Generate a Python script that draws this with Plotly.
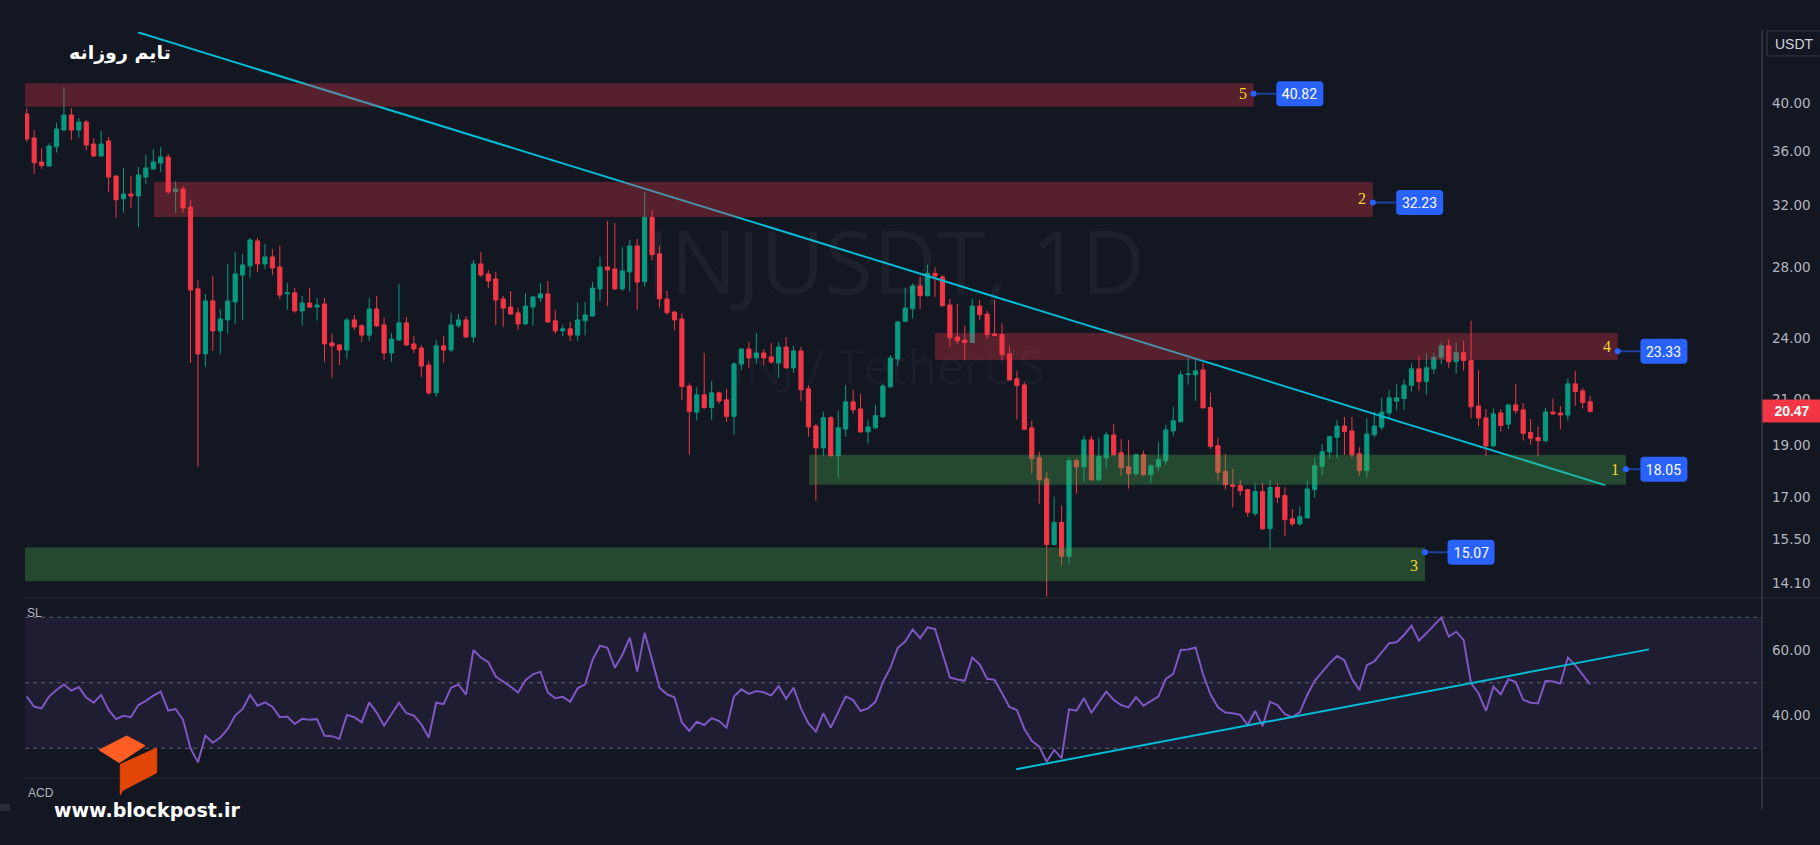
import math
import plotly.graph_objects as go

W, H = 1820, 845
BG = "#131722"
UP, DOWN = "#089981", "#f23645"

# ---------------- data ----------------
opens = [39.06, 37.07, 35.19, 34.88, 36.38, 37.72, 38.97, 37.72, 38.38, 36.59,
         35.65, 36.83, 34.13, 32.49, 32.82, 32.68, 34.06, 34.66, 35.11, 35.57,
         32.99, 33.18, 31.91, 26.71, 23.19, 26.02, 24.38, 24.97, 25.96, 27.53,
         28.08, 29.64, 28.20, 28.63, 28.01, 26.43, 26.48, 25.46, 25.90, 25.68,
         25.85, 23.75, 23.65, 23.39, 24.97, 24.65, 24.16, 25.57, 24.70, 23.24,
         23.90, 24.81, 23.70, 23.49, 22.64, 21.31, 23.60, 23.39, 24.65, 24.97,
         24.06, 28.20, 27.59, 27.29, 26.13, 25.68, 25.35, 24.75, 25.68, 26.19,
         26.42, 24.92, 24.38, 24.49, 24.16, 24.92, 25.18, 26.71, 28.01, 27.89,
         26.71, 27.71, 29.32, 27.13, 31.20, 28.82, 26.13, 25.40, 25.02, 21.63,
         20.43, 21.22, 20.64, 21.31, 20.99, 20.25, 22.69, 23.44, 22.99, 23.24,
         23.04, 22.74, 23.54, 22.50, 23.34, 21.50, 19.83, 18.91, 20.19, 18.59,
         19.70, 20.90, 20.58, 19.58, 19.75, 20.23, 21.59, 22.94, 24.89, 25.58,
         26.88, 26.32, 27.63, 27.41, 25.79, 24.06, 23.90, 23.77, 25.73, 25.29,
         24.22, 24.18, 23.19, 21.97, 21.68, 19.75, 18.51, 17.68, 15.33, 16.08,
         14.94, 18.39, 18.15, 19.24, 17.64, 18.51, 19.45, 18.71, 18.15, 17.88,
         18.63, 17.84, 18.15, 18.39, 19.62, 20.01, 22.17, 22.16, 22.40, 20.64,
         19.00, 17.97, 17.45, 17.42, 17.27, 16.40, 17.20, 15.86, 17.35, 17.05,
         16.21, 16.03, 16.24, 17.27, 18.16, 18.74, 19.35, 19.83, 19.62, 18.67,
         18.00, 19.46, 19.78, 20.40, 20.93, 21.05, 21.66, 22.45, 21.84, 22.45,
         23.02, 23.60, 22.80, 23.25, 22.86, 20.71, 20.18, 18.99, 20.40, 19.91,
         20.76, 20.54, 19.55, 19.34, 19.21, 20.44, 20.40, 20.31, 21.73, 21.40,
         20.90]
highs = [39.55, 37.72, 36.25, 36.64, 38.32, 41.38, 39.55, 38.72, 38.55, 37.04,
         37.64, 37.15, 34.20, 34.73, 34.13, 34.81, 35.73, 36.20, 36.36, 35.81,
         33.77, 33.40, 32.40, 27.23, 26.42, 27.47, 25.57, 28.20, 28.94, 28.82,
         29.83, 29.83, 29.45, 29.13, 29.32, 27.06, 26.76, 26.30, 26.76, 26.19,
         26.19, 24.22, 23.70, 25.08, 25.24, 24.75, 26.19, 26.30, 25.08, 24.27,
         27.00, 25.13, 24.11, 23.65, 22.84, 23.90, 24.11, 25.35, 25.29, 25.18,
         28.44, 28.94, 27.83, 27.71, 26.30, 26.59, 25.62, 26.48, 26.30, 27.06,
         27.17, 25.51, 24.70, 24.86, 25.96, 25.96, 27.11, 28.63, 30.95, 30.82,
         29.26, 29.70, 29.77, 32.94, 31.70, 29.32, 26.59, 25.46, 25.33, 21.76,
         21.57, 23.24, 21.87, 21.37, 21.50, 22.79, 23.49, 23.80, 24.27, 23.44,
         23.75, 23.80, 24.06, 23.60, 23.54, 21.68, 19.92, 20.46, 20.25, 20.50,
         21.68, 21.45, 21.26, 20.10, 20.76, 21.73, 23.14, 24.92, 26.75, 27.04,
         27.43, 28.14, 28.00, 27.53, 26.13, 25.85, 24.66, 26.13, 26.07, 25.47,
         26.07, 24.79, 23.60, 22.35, 21.80, 20.06, 18.75, 17.95, 17.01, 16.68,
         18.51, 18.47, 19.41, 19.41, 19.33, 19.58, 19.92, 19.28, 19.24, 18.67,
         18.79, 18.23, 19.16, 19.88, 20.67, 22.35, 22.99, 22.89, 22.74, 21.32,
         19.33, 18.67, 18.07, 17.64, 17.30, 17.50, 17.52, 17.64, 17.50, 17.36,
         16.56, 16.65, 17.63, 18.49, 19.07, 19.41, 20.10, 20.22, 20.22, 18.94,
         20.17, 20.46, 21.08, 21.45, 21.70, 21.95, 22.73, 23.09, 23.22, 23.25,
         23.78, 23.93, 23.76, 23.87, 24.92, 22.40, 20.57, 20.60, 20.57, 20.81,
         21.73, 20.84, 20.13, 19.81, 20.62, 21.05, 20.71, 21.99, 22.36, 21.53,
         21.17]
lows = [36.78, 34.28, 34.66, 34.83, 35.91, 37.64, 36.91, 37.09, 36.12, 35.57,
        35.60, 32.97, 31.18, 31.52, 31.86, 30.51, 33.55, 34.60, 34.43, 32.82,
        31.52, 31.52, 22.74, 18.15, 22.54, 23.34, 23.19, 24.22, 24.75, 24.97,
        27.35, 27.71, 27.89, 27.53, 26.13, 25.51, 25.35, 24.65, 25.62, 24.92,
        22.79, 22.02, 22.64, 22.94, 24.43, 23.80, 23.85, 24.59, 22.89, 22.79,
        23.85, 23.60, 23.24, 22.06, 21.22, 21.13, 22.74, 23.29, 24.54, 24.00,
        23.75, 27.41, 26.76, 24.70, 24.59, 25.24, 24.43, 24.70, 24.65, 25.96,
        24.80, 24.22, 24.11, 23.85, 23.85, 24.16, 25.15, 26.02, 25.73, 26.65,
        26.59, 26.54, 25.51, 26.84, 28.40, 25.64, 25.25, 24.43, 20.99, 18.63,
        20.06, 20.58, 20.10, 20.81, 20.01, 19.45, 22.40, 22.50, 22.69, 22.64,
        22.69, 22.01, 22.45, 22.25, 20.94, 19.37, 16.86, 18.59, 18.55, 17.72,
        19.37, 20.36, 19.54, 19.08, 19.70, 20.20, 21.54, 22.59, 24.85, 25.04,
        25.58, 26.26, 26.23, 25.70, 23.55, 23.71, 22.86, 23.75, 24.97, 23.96,
        24.11, 22.86, 21.88, 20.11, 19.66, 17.88, 16.75, 13.69, 15.30, 14.65,
        14.68, 17.12, 17.57, 17.60, 17.60, 18.07, 18.59, 17.80, 17.30, 17.80,
        17.80, 17.53, 17.99, 18.23, 19.41, 20.00, 21.68, 20.94, 20.58, 18.86,
        17.60, 17.27, 16.61, 17.05, 16.28, 16.31, 15.83, 15.19, 16.77, 15.60,
        15.95, 15.97, 16.23, 16.96, 17.81, 18.46, 18.48, 18.62, 18.48, 17.80,
        17.74, 19.35, 19.65, 20.13, 20.53, 20.54, 21.37, 21.42, 21.22, 22.21,
        22.69, 22.51, 22.21, 22.36, 20.18, 19.82, 18.59, 18.94, 19.59, 19.69,
        20.36, 19.21, 19.04, 18.56, 19.13, 20.32, 19.69, 20.07, 20.71, 20.60,
        20.42]
closes = [36.99, 35.13, 34.91, 36.43, 37.80, 38.97, 37.72, 38.38, 36.51, 35.65,
          36.59, 34.06, 32.42, 32.82, 32.68, 34.21, 34.73, 35.19, 35.57, 32.97,
          33.18, 31.84, 26.65, 23.19, 26.02, 24.38, 25.02, 26.02, 27.59, 28.14,
          29.70, 28.20, 28.63, 27.95, 26.36, 26.48, 25.46, 25.90, 25.68, 25.79,
          23.70, 23.60, 23.39, 24.97, 24.59, 24.16, 25.57, 24.65, 23.24, 23.95,
          24.81, 23.65, 23.44, 22.59, 21.31, 23.60, 23.39, 24.70, 24.97, 24.06,
          28.20, 27.53, 27.17, 26.07, 25.62, 25.29, 24.75, 25.73, 26.24, 26.42,
          24.86, 24.38, 24.49, 24.16, 24.97, 25.24, 26.76, 28.01, 27.83, 26.71,
          27.77, 29.32, 27.11, 31.20, 28.77, 26.14, 25.37, 24.97, 21.61, 20.46,
          21.22, 20.64, 21.31, 20.94, 20.25, 22.69, 23.44, 22.99, 23.24, 22.99,
          22.79, 23.54, 22.50, 23.34, 21.45, 19.79, 18.91, 20.19, 18.59, 19.75,
          20.90, 20.54, 19.58, 19.79, 20.28, 21.63, 22.99, 24.86, 25.62, 26.88,
          26.32, 27.63, 27.47, 25.75, 24.02, 23.86, 23.77, 25.73, 25.25, 24.18,
          24.13, 23.15, 21.92, 21.65, 19.69, 18.47, 17.64, 15.33, 16.08, 14.94,
          18.39, 18.15, 19.24, 17.64, 18.55, 19.45, 18.63, 18.11, 17.88, 18.63,
          17.84, 18.19, 18.43, 19.66, 20.06, 22.16, 22.20, 22.35, 20.63, 18.97,
          17.93, 17.45, 17.39, 17.23, 16.44, 17.20, 15.86, 17.35, 16.99, 16.18,
          16.03, 16.28, 17.29, 18.19, 18.75, 19.38, 19.83, 19.59, 18.63, 18.00,
          19.49, 19.83, 20.44, 21.08, 21.08, 21.67, 22.45, 21.84, 22.50, 23.02,
          23.60, 22.80, 23.25, 22.86, 20.68, 20.18, 18.99, 20.36, 19.85, 20.76,
          20.50, 19.52, 19.31, 19.21, 20.44, 20.36, 20.31, 21.73, 21.37, 20.87,
          20.47]
rsi = [45.8, 42.7, 42.2, 45.8, 47.8, 49.5, 47.6, 48.7, 45.5, 43.9,
       46.3, 41.7, 38.9, 39.9, 39.5, 43.2, 44.5, 46.1, 47.3, 41.5,
       42.0, 38.7, 30.0, 25.7, 33.9, 31.7, 33.3, 35.9, 40.0, 42.0,
       46.3, 43.0, 44.0, 42.7, 39.5, 39.7, 37.4, 39.0, 38.7, 38.9,
       33.8, 33.7, 32.9, 40.2, 39.5, 37.9, 44.0, 40.9, 36.9, 40.4,
       43.9, 40.7, 40.0, 37.3, 33.3, 43.9, 43.5, 48.5, 49.5, 46.4,
       60.0, 57.7, 56.3, 51.9, 50.4, 48.8, 47.0, 50.8, 52.6, 53.4,
       47.0, 45.3, 45.7, 44.2, 48.3, 49.5, 57.0, 61.3, 60.7, 54.6,
       58.5, 63.8, 53.4, 65.3, 57.0, 48.5, 46.5, 45.6, 37.9, 35.3,
       38.1, 37.1, 39.2, 38.3, 36.3, 45.8, 48.0, 46.6, 47.5, 47.1,
       46.1, 49.0, 45.1, 48.5, 42.2, 37.6, 35.1, 40.7, 36.3, 41.0,
       45.8, 44.7, 41.4, 42.2, 44.2, 50.2, 54.6,
       60.7, 62.6, 66.3, 63.6, 66.9, 66.4, 59.0, 51.6, 51.0, 50.6,
       57.7, 55.6, 51.2, 50.9, 46.8, 42.6, 41.7, 35.9, 32.3, 30.5,
       25.9, 29.5, 26.9, 41.9, 41.5, 45.3, 40.9, 44.2, 47.3, 44.8,
       43.2, 42.5, 45.6, 43.0, 44.5, 45.8, 51.2, 52.7, 60.0, 60.2,
       60.8, 52.6, 46.5, 42.5, 40.9, 40.7, 40.2, 37.1, 41.4, 36.8,
       44.2, 43.2, 40.4, 39.5, 41.0, 46.3, 50.6, 53.4, 56.0, 58.2,
       56.8, 51.2, 47.8, 55.4, 56.5, 59.3, 62.1, 62.4, 64.6, 67.4,
       62.9, 65.1, 67.5, 69.9, 64.1, 65.6, 63.1, 49.8, 46.8, 41.4,
       48.8, 46.5, 51.1, 50.2, 44.8, 43.9, 43.7, 50.6, 50.4, 49.8,
       57.7, 55.4, 52.4, 49.5]
bars = list(range(len(closes)))
rsi_x = list(range(len(rsi)))

# supply / demand zones
zone_num = ["5", "2", "4", "1", "3"]
zone_top = [41.75, 33.69, 24.27, 18.63, 15.23]
zone_bot = [39.68, 31.22, 22.89, 17.45, 14.15]
zone_start = [-0.3, 17.1, 122.0, 105.1, -0.3]
zone_end = [164.8, 180.8, 213.7, 214.8, 187.8]
zone_is_supply = [True, True, True, False, False]
label_price = [40.82, 32.23, 23.33, 18.05, 15.07]
label_text = ["40.82", "32.23", "23.33", "18.05", "15.07"]
label_box_x = [171.0, 187.1, 219.9, 219.9, 194.0]
num_price = [40.82, 32.5, 23.56, 18.05, 14.64]

trend_x = [14.95, 212.0]
trend_y = [46.64, 17.44]
rsi_trend_x = [132.9, 217.9]
rsi_trend_y = [23.6, 60.2]

price_ticks = [40, 36, 32, 28, 24, 21, 19, 17, 15.5, 14.1]
price_tick_text = ["40.00", "36.00", "32.00", "28.00", "24.00", "21.00", "19.00", "17.00", "15.50", "14.10"]
rsi_ticks = [60, 40]
rsi_tick_text = ["60.00", "40.00"]
rsi_levels = [70, 50, 30]
last_price = 20.47

# ---------------- layout helpers (pixel -> paper) ----------------
def px(x):
    return x / W


def py(y):
    return 1 - y / H


def path(points):
    return "M " + " L ".join(f"{px(x):.5f},{py(y):.5f}" for x, y in points) + " Z"


def rounded_box(w, h, r):
    a, b = w / 2, h / 2
    return (f"M {-a + r},{-b} L {a - r},{-b} Q {a},{-b} {a},{-b + r} L {a},{b - r} "
            f"Q {a},{b} {a - r},{b} L {-a + r},{b} Q {-a},{b} {-a},{b - r} "
            f"L {-a},{-b + r} Q {-a},{-b} {-a + r},{-b} Z")


X_DOM = [px(25), px(1762)]
X_RANGE = [-0.23, 233.08]
Y_DOM = [py(598), py(32)]
Y_RANGE = [math.log10(13.647), math.log10(46.67)]


def price_to_paper(p):
    f = (math.log10(p) - Y_RANGE[0]) / (Y_RANGE[1] - Y_RANGE[0])
    return Y_DOM[0] + f * (Y_DOM[1] - Y_DOM[0])


fig = go.Figure()

fig.add_trace(go.Scatter(x=trend_x, y=trend_y, mode="lines",
                         line=dict(color="#00bcd4", width=2), hoverinfo="skip",
                         xaxis="x", yaxis="y"))

for k in range(len(zone_num)):
    col = "rgba(242,54,69,0.30)" if zone_is_supply[k] else "rgba(76,175,80,0.33)"
    fig.add_trace(go.Scatter(
        x=[zone_start[k], zone_end[k], zone_end[k], zone_start[k], zone_start[k]],
        y=[zone_bot[k], zone_bot[k], zone_top[k], zone_top[k], zone_bot[k]],
        mode="lines", fill="toself", fillcolor=col, line=dict(width=0),
        hoverinfo="skip", xaxis="x", yaxis="y"))

fig.add_trace(go.Candlestick(
    x=bars, open=opens, high=highs, low=lows, close=closes,
    increasing=dict(line=dict(color=UP, width=1), fillcolor=UP),
    decreasing=dict(line=dict(color=DOWN, width=1), fillcolor=DOWN),
    whiskerwidth=0, hoverinfo="skip", xaxis="x", yaxis="y"))

fig.add_trace(go.Scatter(x=zone_end, y=label_price, mode="markers",
                         marker=dict(color="#2962ff", size=6), hoverinfo="skip",
                         xaxis="x", yaxis="y"))

fig.add_trace(go.Scatter(x=rsi_x, y=rsi, mode="lines",
                         line=dict(color="#7e57c2", width=2), hoverinfo="skip",
                         xaxis="x2", yaxis="y2"))
fig.add_trace(go.Scatter(x=rsi_trend_x, y=rsi_trend_y, mode="lines",
                         line=dict(color="#00bcd4", width=2), hoverinfo="skip",
                         xaxis="x2", yaxis="y2"))

shapes = []
shapes.append(dict(type="rect", xref="paper", yref="y2", x0=X_DOM[0], x1=X_DOM[1],
                   y0=rsi_levels[2], y1=rsi_levels[0], fillcolor="rgba(126,87,194,0.10)",
                   line=dict(width=0), layer="below"))
for lv in rsi_levels:
    shapes.append(dict(type="line", xref="paper", yref="y2", x0=X_DOM[0], x1=X_DOM[1],
                       y0=lv, y1=lv, line=dict(color="rgba(120,123,134,0.75)", width=1, dash="4px,4px"),
                       layer="below"))
for yy in (598, 778):
    shapes.append(dict(type="line", xref="paper", yref="paper", x0=px(25), x1=1,
                       y0=py(yy), y1=py(yy), line=dict(color="#2a2e39", width=1)))
shapes.append(dict(type="line", xref="paper", yref="paper", x0=px(1762), x1=px(1762),
                   y0=py(30), y1=py(809), line=dict(color="#4a4e59", width=1)))
shapes.append(dict(type="rect", xref="paper", yref="paper", x0=px(0), x1=px(10),
                   y0=py(811), y1=py(804), fillcolor="#2a2e39", line=dict(width=0)))
shapes.append(dict(type="rect", xref="paper", yref="paper", x0=px(1767), x1=px(1822),
                   y0=py(56), y1=py(31), fillcolor=BG, line=dict(color="#363a45", width=1)))
# rounded blue label boxes
for k in range(len(label_text)):
    shapes.append(dict(type="path", xref="x", yref="paper", xsizemode="pixel", ysizemode="pixel",
                       xanchor=label_box_x[k], yanchor=price_to_paper(label_price[k]),
                       path=rounded_box(47, 25, 4), fillcolor="#2962ff",
                       line=dict(width=0), layer="above"))
# logo
shapes.append(dict(type="path", xref="paper", yref="paper",
                   path=path([(99.3, 750), (126.7, 736), (145, 745.7), (119.3, 762.7)]),
                   fillcolor="#ff5d22", line=dict(color="#ff5d22", width=1)))
shapes.append(dict(type="path", xref="paper", yref="paper",
                   path=path([(120.3, 764.5), (156.7, 748), (156.7, 772.7), (122.5, 790.5), (120.3, 795)]),
                   fillcolor="#e24606", line=dict(color="#e24606", width=1)))

annotations = []
for k in range(len(zone_num)):
    ly = math.log10(label_price[k])
    annotations.append(dict(
        x=zone_end[k], y=ly, xref="x", yref="y", ax=label_box_x[k], ay=ly,
        axref="x", ayref="y", text=label_text[k], showarrow=True, arrowhead=0,
        arrowwidth=2, arrowcolor="rgba(41,98,255,0.55)",
        borderpad=0, borderwidth=0, width=47, height=25,
        font=dict(color="white", size=14, family="Roboto")))
    annotations.append(dict(
        x=zone_end[k], y=math.log10(num_price[k]), xref="x", yref="y",
        text=zone_num[k], showarrow=False, xanchor="right", yanchor="middle", xshift=-5,
        font=dict(color="#f5d630", size=16, family="Liberation Serif")))


def paper_text(x, y, text, font, xanchor="center", **kw):
    d = dict(x=px(x), y=py(y), xref="paper", yref="paper", text=text, showarrow=False,
             xanchor=xanchor, yanchor="middle", font=font)
    d.update(kw)
    annotations.append(d)


paper_text(895, 260, "INJUSDT, 1D", dict(color="rgba(255,255,255,0.045)", size=88, family="Open Sans"))
paper_text(888, 366, "INJ / TetherUS", dict(color="rgba(255,255,255,0.045)", size=48, family="Open Sans"))
paper_text(120, 52, "<b>تایم روزانه</b>", dict(color="white", size=19, family="DejaVu Sans"))
paper_text(147, 810, "<b>www.blockpost.ir</b>", dict(color="white", size=19, family="DejaVu Sans"))
paper_text(25, 613, "SL", dict(color="#b2b5be", size=12, family="Liberation Sans"), xanchor="left")
paper_text(26, 793, "ACD", dict(color="#b2b5be", size=12, family="Liberation Sans"), xanchor="left")
paper_text(1794, 44, "USDT", dict(color="#d1d4dc", size=14, family="Liberation Sans"))
annotations.append(dict(x=px(1762), y=math.log10(last_price), xref="paper", yref="y",
                        xanchor="left", yanchor="middle", text="<b>%.2f</b>" % last_price,
                        showarrow=False, bgcolor=DOWN, width=58, height=22, borderpad=0,
                        font=dict(color="white", size=14, family="Liberation Sans")))

axis_font = dict(color="#b2b5be", size=13.5, family="DejaVu Sans")
fig.update_layout(
    width=W, height=H, margin=dict(l=0, r=0, t=0, b=0),
    paper_bgcolor=BG, plot_bgcolor=BG, showlegend=False, hovermode=False,
    boxgap=0.2, boxgroupgap=0.3,
    xaxis=dict(domain=X_DOM, range=X_RANGE, visible=False, anchor="y",
               rangeslider=dict(visible=False), fixedrange=True),
    yaxis=dict(domain=Y_DOM, type="log", range=Y_RANGE, side="right",
               tickvals=price_ticks, ticktext=price_tick_text, showgrid=False,
               zeroline=False, showline=False, ticks="", tickfont=axis_font,
               ticklabelstandoff=9, anchor="x", fixedrange=True),
    xaxis2=dict(domain=X_DOM, range=X_RANGE, visible=False, anchor="y2", fixedrange=True),
    yaxis2=dict(domain=[py(778), py(598)], range=[20.93, 75.89], side="right",
                tickvals=rsi_ticks, ticktext=rsi_tick_text, showgrid=False,
                zeroline=False, showline=False, ticks="", tickfont=axis_font,
                ticklabelstandoff=9, anchor="x2", fixedrange=True),
    shapes=shapes, annotations=annotations,
)

fig.write_html("out.html", config={"displayModeBar": False})
